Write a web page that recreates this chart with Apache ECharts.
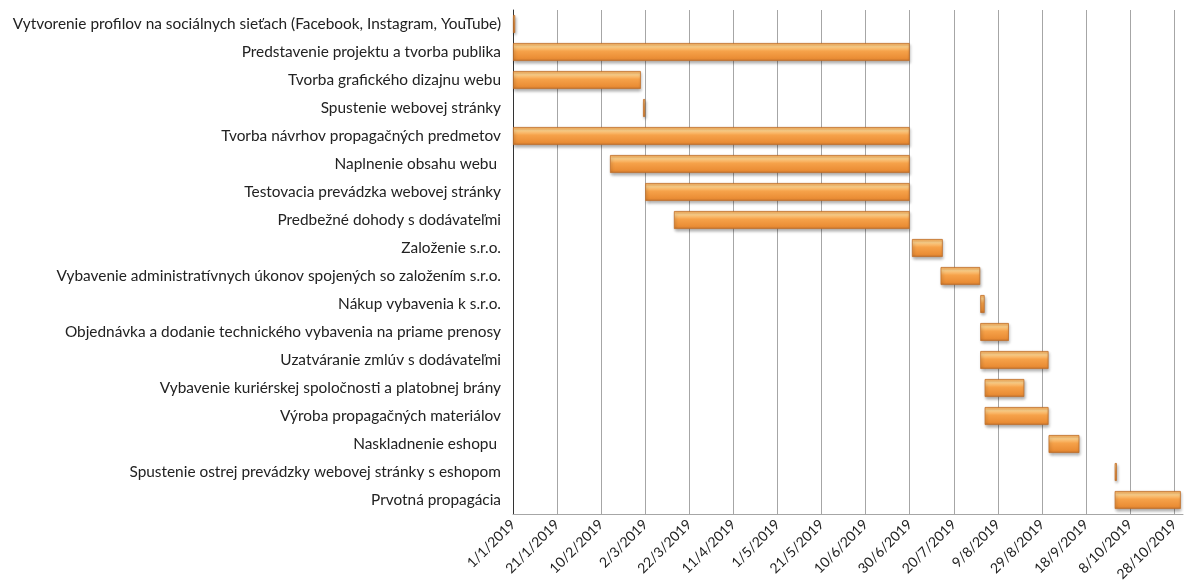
<!DOCTYPE html>
<html>
<head>
<meta charset="utf-8">
<script src="https://cdn.jsdelivr.net/npm/echarts@6/dist/echarts.min.js"></script>
<style>
  html, body { margin: 0; padding: 0; background: #fff; }
  #chart { width: 1184px; height: 588px; }
</style>
</head>
<body>
<div id="chart"></div>
<script>
// úlohy harmonogramu (zhora nadol)
const tasks = [
  'Vytvorenie profilov na sociálnych sieťach (Facebook, Instagram, YouTube)',
  'Predstavenie projektu a tvorba publika',
  'Tvorba grafického dizajnu webu',
  'Spustenie webovej stránky',
  'Tvorba návrhov propagačných predmetov',
  'Naplnenie obsahu webu ',
  'Testovacia prevádzka webovej stránky',
  'Predbežné dohody s dodávateľmi',
  'Založenie s.r.o.',
  'Vybavenie administratívnych úkonov spojených so založením s.r.o.',
  'Nákup vybavenia k s.r.o.',
  'Objednávka a dodanie technického vybavenia na priame prenosy',
  'Uzatváranie zmlúv s dodávateľmi',
  'Vybavenie kuriérskej spoločnosti a platobnej brány',
  'Výroba propagačných materiálov',
  'Naskladnenie eshopu ',
  'Spustenie ostrej prevádzky webovej stránky s eshopom',
  'Prvotná propagácia',
]

// začiatok úlohy (d/m/rrrr)
const startDates = [
  '1/1/2019', '1/1/2019', '1/1/2019', '1/3/2019', '1/1/2019', '14/2/2019',
  '2/3/2019', '15/3/2019', '1/7/2019', '14/7/2019', '1/8/2019', '1/8/2019',
  '1/8/2019', '3/8/2019', '3/8/2019', '1/9/2019', '1/10/2019', '1/10/2019',
]

// trvanie v dňoch
const durations = [1, 180, 58, 1, 180, 136, 120, 107, 14, 18, 2, 13, 31, 18, 29, 14, 1, 30]

// os x: dni od 1/1/2019
const axisStart = '1/1/2019'
const axisMaxDays = 304
const tickStep = 20

const DAY = 86400000
const parseDate = (s) => {
  const [d, m, y] = s.split('/').map(Number)
  return Date.UTC(y, m - 1, d)
}
const origin = parseDate(axisStart)
const dayOffset = (s) => Math.round((parseDate(s) - origin) / DAY)
const formatDay = (v) => {
  const dt = new Date(origin + v * DAY)
  return `${dt.getUTCDate()}/${dt.getUTCMonth() + 1}/${dt.getUTCFullYear()}`
}

const offsets = startDates.map(dayOffset)

const barColor = new echarts.graphic.LinearGradient(0, 0, 0, 1, [
  { offset: 0, color: '#f5a650' },
  { offset: 0.2, color: '#fdd08a' },
  { offset: 0.45, color: '#f6a24a' },
  { offset: 0.85, color: '#ea8d35' },
  { offset: 1, color: '#c4732c' },
])

const instance = echarts.init(document.getElementById('chart'))

const option = {
  animation: false,
  grid: { left: 513, right: 1, top: 10, bottom: 74 },
  xAxis: {
    type: 'value',
    min: 0,
    max: axisMaxDays,
    interval: tickStep,
    axisLine: { show: true, lineStyle: { color: '#a6a6a6', width: 1 } },
    axisTick: { show: false },
    splitLine: { show: true, showMaxLine: false, lineStyle: { color: '#a6a6a6', width: 1 } },
    axisLabel: {
      rotate: 45,
      margin: 8,
      color: '#222',
      fontFamily: 'Lato',
      fontSize: 14,
      showMaxLabel: false,
      formatter: (v) => (v % tickStep === 0 ? formatDay(v) : ''),
    },
  },
  yAxis: {
    type: 'category',
    data: tasks,
    inverse: true,
    axisLine: { show: true, lineStyle: { color: '#333', width: 1 } },
    axisTick: { show: false },
    splitLine: { show: false },
    axisLabel: {
      margin: 12,
      color: '#222',
      fontFamily: 'Lato',
      fontSize: 15.4,
    },
  },
  series: [
    {
      type: 'bar',
      stack: 'gantt',
      data: offsets,
      itemStyle: { color: 'transparent' },
      silent: true,
      barWidth: 18,
    },
    {
      type: 'bar',
      stack: 'gantt',
      data: durations,
      barWidth: 18,
      itemStyle: {
        color: barColor,
        borderColor: '#c06e28',
        borderWidth: 0.8,
        shadowColor: 'rgba(0,0,0,0.3)',
        shadowBlur: 3,
        shadowOffsetX: 1,
        shadowOffsetY: 2,
      },
    },
  ],
}

instance.setOption(option)
</script>
</body>
</html>
